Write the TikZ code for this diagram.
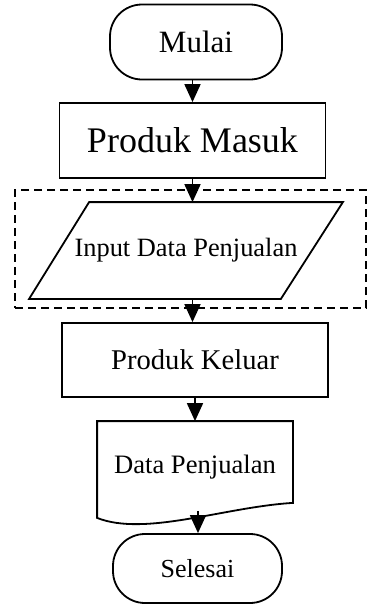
\documentclass[tikz,border=0pt]{standalone}
\usepackage{fontspec}
\setmainfont{Liberation Serif}
\usetikzlibrary{arrows.meta, calc}
\newcommand{\fsz}[1]{\fontsize{#1pt}{#1pt}\selectfont}

\begin{document}
\begin{tikzpicture}[x=0.5pt, y=-0.5pt, line width=0.9pt,
  terminal/.style={draw, rounded corners=16pt, minimum width=86pt, minimum height=37.5pt, inner sep=1pt},
  process/.style={draw, minimum width=133pt, minimum height=37.5pt, inner sep=1pt},
  flow/.style={-{Triangle[length=9pt,width=8pt]}}]
\useasboundingbox (0,0) rectangle (367,606);

% area input
\node[draw, dash pattern=on 4pt off 2.5pt, minimum width=175.5pt, minimum height=59pt] (area) at (190.5,249) {};

\node[terminal, font=\fsz{15.5}] (mulai) at (196,42) {Mulai};
\node[process, font=\fsz{18}] (masuk) at (192.5,140.5) {Produk Masuk};
\node[minimum width=156pt, minimum height=47.5pt, inner sep=1pt, font=\fsz{13.2}] (input) at (186,250.5) {Input Data Penjualan};
\node[process, minimum height=37pt, font=\fsz{14.3}] (keluar) at (195,360) {Produk Keluar};
\node[minimum width=97pt, minimum height=45pt, font=\fsz{13.3}] (doc) at (195,467) {Data Penjualan};
\node[terminal, minimum width=84.5pt, minimum height=34.5pt, font=\fsz{13}] (selesai) at (197.5,568.5) {Selesai};

% input data
\draw (input.south west) -- ($(input.north west)+(30pt,0)$) -- (input.north east)
  -- ($(input.south east)+(-31pt,0)$) -- cycle;

% dokumen
\draw ($(doc.south west)+(0,-2.5pt)$) -- (doc.north west) -- (doc.north east)
  -- ($(doc.south east)+(0,5pt)$) .. controls ($(doc.south)+(15pt,3pt)$) and ($(doc.south)+(-25pt,-12pt)$) .. cycle;

\draw[flow] (masuk.north |- mulai.south) -- (masuk.north);
\draw[flow] (masuk.south) -- (masuk.south |- input.north);
\draw[flow] (masuk.south |- input.south) -- (masuk.south |- keluar.north);
\draw[flow] (keluar.south) -- (doc.north);
\draw[flow] ($(doc.south)+(1.5pt,1pt)$) -- (selesai.north -| {$(doc.south)+(1.5pt,0)$});

\end{tikzpicture}
\end{document}
